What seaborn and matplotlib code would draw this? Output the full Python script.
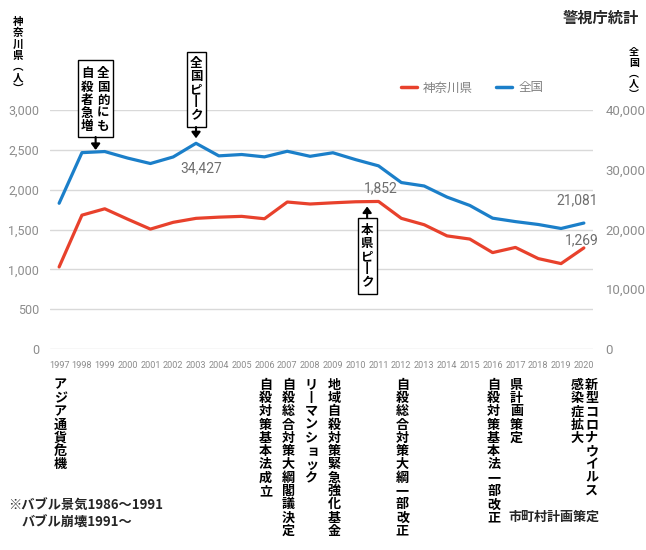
import matplotlib
matplotlib.use("Agg")
import matplotlib.pyplot as plt
import matplotlib.transforms as mtransforms
from matplotlib.patches import Rectangle, FancyArrowPatch
from matplotlib.lines import Line2D
from matplotlib.ticker import FuncFormatter
import seaborn as sns
import pandas as pd

# Data
years = list(range(1997, 2021))
kanagawa = [1030, 1680, 1760, 1630, 1505, 1590, 1640, 1655, 1665, 1635, 1845, 1820,
            1835, 1848, 1852, 1640, 1560, 1420, 1380, 1210, 1275, 1135, 1072, 1269]
national = [24391, 32863, 33048, 31957, 31042, 32143, 34427, 32325, 32552, 32155, 33093, 32249,
            32845, 31690, 30651, 27858, 27283, 25427, 24025, 21897, 21321, 20840, 20169, 21081]
left_ticks = [0, 500, 1000, 1500, 2000, 2500, 3000]
right_ticks = [0, 10000, 20000, 30000, 40000]
events = [
    (1997, "アジア通貨危機"),
    (2006, "自殺対策基本法成立"),
    (2007, "自殺総合対策大綱閣議決定"),
    (2008, "リーマンショック"),
    (2009, "地域自殺対策緊急強化基金"),
    (2012, "自殺総合対策大綱一部改正"),
    (2016, "自殺対策基本法一部改正"),
    (2017, "県計画策定"),
    (2019.65, "感染症拡大"),
    (2020.3, "新型コロナウイルス"),
]

RED = "#E8412C"
BLUE = "#1B7FC9"
GRID = "#D9D9D9"
TICK = "#8C8C8C"
JP = ["Noto Sans CJK JP", "DejaVu Sans"]
NUM = ["Roboto", "Noto Sans CJK JP", "DejaVu Sans"]

W, H = 646, 550

sns.set_theme(style="white")
plt.rcParams["font.family"] = NUM

df = pd.DataFrame({"year": years, "kanagawa": kanagawa, "national": national})

fig = plt.figure(figsize=(W / 100, H / 100), dpi=100)
ax = fig.add_axes([50 / W, 1 - 349 / H, 543 / W, 239 / H])
ax2 = ax.twinx()

# pixel coords, origin top-left
pix = mtransforms.Affine2D().scale(1 / W, -1 / H).translate(0, 1) + fig.transFigure

sns.lineplot(data=df, x="year", y="kanagawa", ax=ax, color=RED, lw=2.3)
sns.lineplot(data=df, x="year", y="national", ax=ax2, color=BLUE, lw=2.3)

ax.set_xlim(1996.6, 2020.4)
ax.set_ylim(0, 3000)
ax2.set_ylim(0, 40000)
ax.set_xticks(years)
ax.set_xticklabels([str(y) for y in years])
ax.set_yticks(left_ticks)
ax2.set_yticks(right_ticks)
fmt = FuncFormatter(lambda v, p: f"{int(v):,}")
ax.yaxis.set_major_formatter(fmt)
ax2.yaxis.set_major_formatter(fmt)
ax.yaxis.grid(True, color=GRID, lw=1)
ax.set_xlabel("")
ax.set_ylabel("")
ax2.set_ylabel("")
for a in (ax, ax2):
    for s in a.spines.values():
        s.set_visible(False)
ax.tick_params(axis="x", length=0, pad=9, labelsize=6.6, labelcolor=TICK)
ax.tick_params(axis="y", length=0, pad=8, labelsize=9, labelcolor=TICK)
ax2.tick_params(axis="y", length=0, pad=9, labelsize=9.5, labelcolor=TICK)

# legend
handles = [Line2D([], [], color=RED, lw=2.5), Line2D([], [], color=BLUE, lw=2.5)]
ax2.legend(handles, ["神奈川県", "全国"], loc="center", bbox_to_anchor=(472, 88),
           bbox_transform=pix, ncol=2, frameon=False, handlelength=1.3,
           handletextpad=0.5, columnspacing=1.8, labelcolor="#808080",
           prop={"family": JP, "size": 9})


def to_px(a, x, y):
    dx, dy = a.transData.transform((x, y))
    return dx, H - dy


SMALL = set("ァィゥェォッャュョ")


def vtext(x, top, s, pitch, size, color="black"):
    fs = size * 100 / 72
    for i, ch in enumerate(s):
        dx = 0.1 * fs if ch in SMALL else 0
        if ch == "ー":
            ch = "丨"
        cy = top + pitch * (i + 0.5)
        fig.text(x + dx, cy + 0.38 * fs, ch, transform=pix, ha="center",
                 va="baseline", fontsize=size, fontweight="bold", family=JP, color=color)


# axis titles
vtext(18, 15, "神奈川県︵人︶", 11.4, 7.6)
vtext(634, 46, "全国︵人︶", 10.6, 7.2)
fig.text(601, 18, "警視庁統計", transform=pix, ha="center", va="center",
         fontsize=11, fontweight="bold", family=JP)

# value labels
for a, yr, val, txt, dx, dy in [
    (ax2, 2003, national[6], "34,427", 5, 25),
    (ax, 2011, kanagawa[14], "1,852", 2, -13),
    (ax2, 2020, national[-1], "21,081", -7, -23),
    (ax, 2020, kanagawa[-1], "1,269", -2, -8),
]:
    px, py = to_px(a, yr, val)
    fig.text(px + dx, py + dy, txt, transform=pix, ha="center", va="center",
             fontsize=10, color="#6E6E6E")


def arrow(x, y0, y1):
    fig.add_artist(FancyArrowPatch(
        (x, y0), (x, y1), transform=pix, arrowstyle="-|>,head_length=3.5,head_width=2.6",
        color="black", lw=1.5, shrinkA=0, shrinkB=0))


def box(x0, y0, x1, y1):
    fig.add_artist(Rectangle((x0, y0), x1 - x0, y1 - y0, transform=pix,
                             facecolor="white", edgecolor="black", lw=1))


# 全国的にも自殺者急増
bx, _ = to_px(ax2, 1998.6, 0)
box(bx - 17.5, 60, bx + 17.5, 137)
vtext(bx + 7.5, 66, "全国的にも", 13.2, 9)
vtext(bx - 8.5, 66, "自殺者急増", 13.2, 9)
arrow(bx, 137, 150)

# 全国ピーク
bx, by = to_px(ax2, 2003, national[6])
box(bx - 9.5, 52, bx + 9.5, 127)
vtext(bx, 56, "全国ピーク", 13, 9)
arrow(bx, 127, by - 5)

# 本県ピーク
bx, by = to_px(ax, 2010.5, kanagawa[14])
box(bx - 9.5, 218, bx + 9.5, 294)
vtext(bx, 223, "本県ピーク", 13, 9)
arrow(bx, 218, by + 5)

# event labels below the axis
for yr, txt in events:
    ex, _ = to_px(ax, yr, 0)
    vtext(ex + 1, 377, txt, 13.3, 9.4)

fig.text(508, 517, "市町村計画策定", transform=pix, ha="left", va="center",
         fontsize=9.4, fontweight="bold", family=JP)
fig.text(8, 506, "※バブル景気1986〜1991", transform=pix, ha="left", va="center",
         fontsize=9.5, fontweight="bold", family=JP)
fig.text(22, 523, "バブル崩壊1991〜", transform=pix, ha="left", va="center",
         fontsize=9.5, fontweight="bold", family=JP)

fig.savefig("out.png", dpi=100)
